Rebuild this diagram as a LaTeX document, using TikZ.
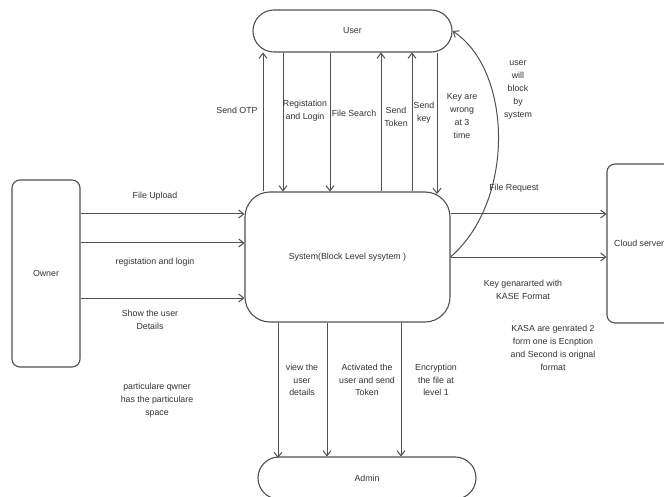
\documentclass[tikz,border=0pt]{standalone}
\usepackage{fontspec}
\setmainfont{Liberation Sans}
\usetikzlibrary{arrows.meta}
\definecolor{ln}{HTML}{505050}
\definecolor{tx}{HTML}{333333}
\tikzset{
  box/.style={draw=ln, line width=1.1pt, fill=white, inner sep=0pt},
  arr/.style={draw=ln, line width=1pt, -{Straight Barb[length=5pt,width=8pt,line width=1pt]}},
  lbl/.style={text=tx, font=\fontsize{8.8}{12.8}\selectfont, align=center, inner sep=0pt},
}
\begin{document}
\begin{tikzpicture}[x=1pt,y=-1pt]
\clip (0,0) rectangle (664,497);
\fill[white] (0,0) rectangle (664,497);
% nodes
\node[box, rounded corners=20.9pt, minimum width=199pt, minimum height=42pt] (user) at (352.5,31) {};
\node[lbl] (usertxt) at (user.center) {User};
\node[box, rounded corners=25pt, minimum width=205pt, minimum height=130pt] (sys) at (347.5,257) {};
\node[lbl] (systxt) at (sys.center) {System(Block Level sysytem )};
\node[box, rounded corners=8pt, minimum width=68pt, minimum height=187pt] (owner) at (46,273.5) {};
\node[lbl] (ownertxt) at (owner.center) {Owner};
\node[box, rounded corners=8pt, minimum width=93pt, minimum height=159pt] (cloud) at (653.5,243.5) {};
\node[lbl, anchor=west] (cloudtxt) at (614,243) {Cloud server};
\node[box, rounded corners=20.9pt, minimum width=218pt, minimum height=42pt] (admin) at (367,478) {};
\node[lbl] (admintxt) at (367,478) {Admin};

% user <-> system
\draw[arr] (263,0 |- sys.north) -- (263,0 |- user.south);
\draw[arr] (283,0 |- user.south) -- (283,0 |- sys.north);
\draw[arr] (330,0 |- user.south) -- (330,0 |- sys.north);
\draw[arr] (381,0 |- sys.north) -- (381,0 |- user.south);
\draw[arr] (412,0 |- sys.north) -- (412,0 |- user.south);
\draw[arr] (437,0 |- user.south) -- (437,194);
% curve
\draw[arr] (sys.east) .. controls (516,200) and (512,70) .. (user.east);

% owner -> system
\draw[arr] (owner.east |- 0,214) -- (sys.west |- 0,214);
\draw[arr] (owner.east |- 0,243) -- (sys.west |- 0,243);
\draw[arr] (owner.east |- 0,298) -- (sys.west |- 0,298);

% system -> cloud
\draw[arr] (sys.east |- 0,214) -- (cloud.west |- 0,214);
\draw[arr] (sys.east |- 0,257) -- (cloud.west |- 0,257);

% system -> admin
\draw[arr] (278,0 |- sys.south) -- (278,458);
\draw[arr] (327,0 |- sys.south) -- (327,0 |- admin.north);
\draw[arr] (401,0 |- sys.south) -- (401,0 |- admin.north);

% labels
\node[lbl] (l1) at (237,110) {Send OTP};
\node[lbl] (l2) at (305,111) {Registation\\and Login};
\node[lbl] (l3) at (354,113) {File Search};
\node[lbl] (l4) at (396,117) {Send\\Token};
\node[lbl] (l5) at (424,113) {Send\\key};
\node[lbl] (l6) at (462,116) {Key are\\wrong\\at 3\\time};
\node[lbl] (l7) at (518,90) {user\\will\\block\\by\\system};
\node[lbl] (l8) at (514,188) {File Request};
\node[lbl] (l9) at (523,290) {Key genararted with\\KASE Format};
\node[lbl] (l10) at (553,348) {KASA are genrated 2\\form one is Ecnption\\and Second is orignal\\format};
\node[lbl] (l11) at (155,196) {File Upload};
\node[lbl] (l12) at (155,262) {registation and login};
\node[lbl] (l13) at (150,320) {Show the user\\Details};
\node[lbl] (l14) at (157,400) {particulare qwner\\has the particulare\\space};
\node[lbl] (l15) at (302,380) {view the\\user\\details};
\node[lbl] (l16) at (367,380) {Activated the\\user and send\\Token};
\node[lbl] (l17) at (436,380) {Encryption\\the file at\\level 1};
\end{tikzpicture}
\end{document}
